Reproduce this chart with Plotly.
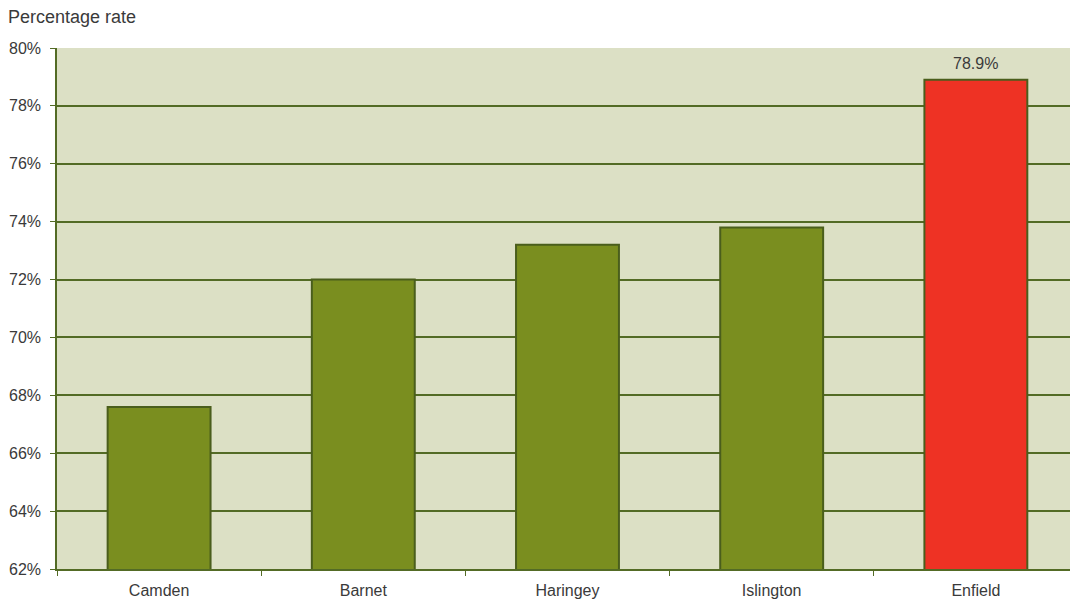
import plotly.graph_objects as go

categories = ["Camden", "Barnet", "Haringey", "Islington", "Enfield"]
values = [67.6, 72.0, 73.2, 73.8, 78.9]
bar_colors = ["#7A8E1F", "#7A8E1F", "#7A8E1F", "#7A8E1F", "#EE3224"]
labelled = ["Enfield"]
y_ticks = [62, 64, 66, 68, 70, 72, 74, 76, 78, 80]
y_tick_labels = [f"{v}%" for v in y_ticks]

line_col = "#536B25"
font_col = "#3A3A3A"
FONT = "Liberation Sans"

W, H = 1070, 604
L, R, T, B = 57, 0, 48, 35

fig = go.Figure()
fig.add_trace(go.Bar(
    x=categories, y=values,
    marker=dict(color=bar_colors, line=dict(color="#4A5E1C", width=2)),
    width=0.504,
    cliponaxis=False,
))

for c, v in zip(categories, values):
    if c in labelled:
        fig.add_annotation(x=c, y=v, text=f"{v}%", showarrow=False,
                           yanchor="bottom", yshift=6,
                           font=dict(size=16, color=font_col, family=FONT))

fig.update_layout(
    width=W, height=H,
    margin=dict(l=L, r=R, t=T, b=B, autoexpand=False),
    paper_bgcolor="white",
    plot_bgcolor="#DCE0C5",
    showlegend=False,
    font=dict(family=FONT, size=16, color=font_col),
)
fig.add_annotation(text="Percentage rate", xref="paper", yref="paper",
                   x=-(L - 6) / (W - L - R), y=1 + (T - 17) / (H - T - B),
                   xanchor="left", yanchor="middle",
                   showarrow=False, font=dict(size=18, color=font_col, family=FONT))

fig.update_xaxes(
    range=[-0.5, 4.461],
    showgrid=False, ticks="outside", tickson="boundaries", ticklen=5,
    tickcolor=line_col, showline=True, linecolor=line_col, linewidth=1.5,
    tickfont=dict(size=16, color=font_col, family=FONT),
    ticklabelstandoff=6,
)
fig.update_yaxes(
    range=[62, 80], tickvals=y_ticks, ticktext=y_tick_labels,
    showgrid=True, gridcolor=line_col, gridwidth=1.5,
    ticks="outside", ticklen=5, tickcolor=line_col,
    showline=True, linecolor=line_col, linewidth=1.5,
    tickfont=dict(size=16, color=font_col, family=FONT), zeroline=False,
    ticklabelstandoff=6,
)

fig.write_html("out.html", config={"displayModeBar": False},
               post_script="document.body.style.margin='0';document.body.style.overflow='hidden';")
